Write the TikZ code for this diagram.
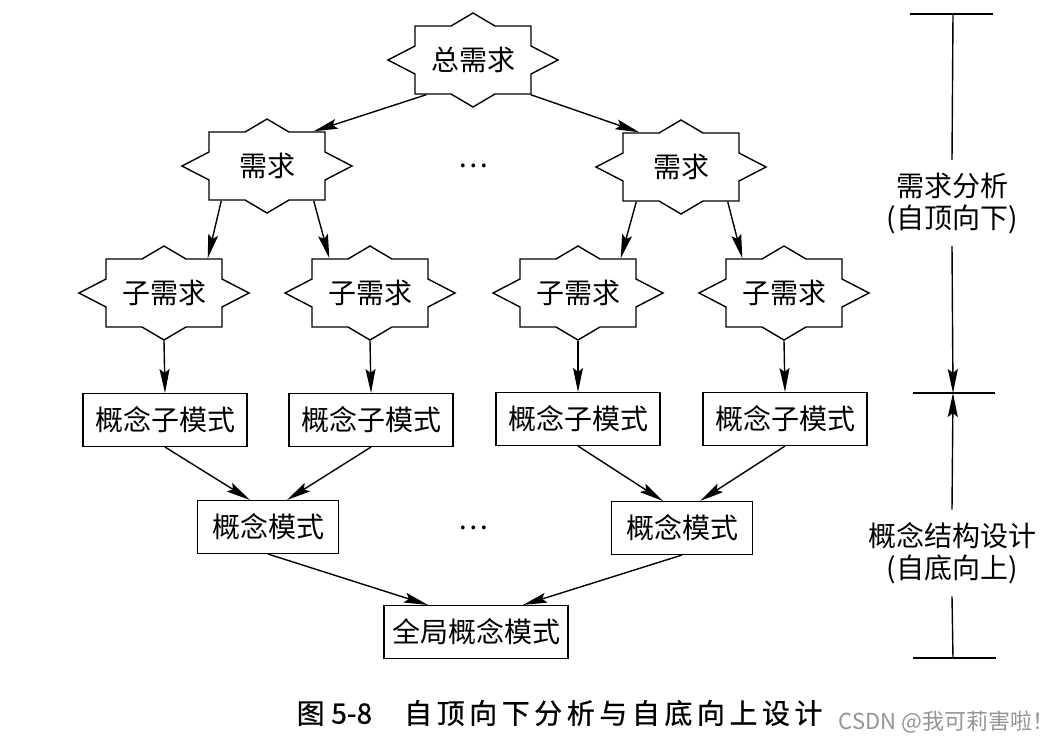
\documentclass[tikz,border=0pt]{standalone}
\usepackage{fontspec}
\setmainfont{Noto Sans CJK SC}
\newfontfamily\capfont[FakeBold=0.6]{Noto Sans CJK SC}
\usetikzlibrary{arrows.meta,calc}
\def\spaced#1{\spacedi#1\relax}
\def\spacedi#1{\ifx#1\relax\else#1\kern3.4pt\expandafter\spacedi\fi}
\begin{document}
\begin{tikzpicture}[x=0.75pt,y=-0.75pt,
  line width=1.05pt,
  txt/.style={font=\fontsize{21}{24}\selectfont, inner sep=0pt},
  starnode/.style={txt, minimum width=87pt, minimum height=51pt},
  boxnode/.style={txt, draw, minimum height=39.5pt},
  arr/.style={-{Stealth[length=18pt,width=7.5pt,inset=3pt]}},
  tick/.style={line width=1.05pt},
  side/.style={txt, align=center, inner ysep=9pt},
]
\path[use as bounding box, fill=white] (0,0) rectangle (1054,744);

% star nodes
\node[starnode] (top) at (473,60) {总需求};
\node[starnode] (r1) at (267,166) {需求};
\node[starnode] (r2) at (681,167) {需求};
\node[starnode] (s1) at (164,293) {子需求};
\node[starnode] (s2) at (370,293) {子需求};
\node[starnode] (s3) at (578,293) {子需求};
\node[starnode] (s4) at (784,293) {子需求};
\foreach \n in {top,r1,r2,s1,s2,s3,s4}
  \draw[shift={(\n.center)}] (0,-47) -- (22,-34) -- (58,-34) -- (58,-14) -- (85,0)
     -- (58,14) -- (58,34) -- (22,34) -- (0,47) -- (-22,34) -- (-58,34) -- (-58,14)
     -- (-85,0) -- (-58,-14) -- (-58,-34) -- (-22,-34) -- cycle;

% boxes
\node[boxnode, minimum width=123pt] (b1) at (165,420) {概念子模式};
\node[boxnode, minimum width=123pt] (b2) at (371,420) {概念子模式};
\node[boxnode, minimum width=123pt] (b3) at (578,419) {概念子模式};
\node[boxnode, minimum width=123pt] (b4) at (785,419) {概念子模式};
\node[boxnode, minimum width=106pt] (m1) at (268,527) {概念模式};
\node[boxnode, minimum width=106pt] (m2) at (682,528) {概念模式};
\node[boxnode, minimum width=138pt] (g) at (476,632) {全局概念模式};

% ellipses
\node[txt] (d1) at (473,166) {…};
\node[txt] (d2) at (473,528) {…};

% connectors
\draw[arr] ($(top.south west)+(12,0)$) -- ($(r1.north east)+(-12,0)$);
\draw[arr] ($(top.south east)+(-1,0)$) -- ($(r2.north west)+(17,0)$);
\draw[arr] ($(r1.south west)+(13,0)$) -- ($(s1.north east)+(-15,0)$);
\draw[arr] ($(r1.south east)+(-12,0)$) -- ($(s2.north west)+(18,0)$);
\draw[arr] ($(r2.south west)+(14,0)$) -- ($(s3.north east)+(-16,0)$);
\draw[arr] ($(r2.south east)+(-12,0)$) -- ($(s4.north west)+(17,0)$);
\foreach \i in {1,2,3,4}
  \draw[arr] ($(s\i.south)+(0,13)$) -- (b\i.north);
\draw[arr] (b1.south) -- ($(m1.north)+(-18,0)$);
\draw[arr] (b2.south) -- ($(m1.north)+(19,0)$);
\draw[arr] (b3.south) -- ($(m2.north)+(-19,0)$);
\draw[arr] (b4.south) -- ($(m2.north)+(18,0)$);
\draw[arr] (m1.south) -- ($(g.north)+(-48,0)$);
\draw[arr] (m2.south) -- ($(g.north)+(47,0)$);

% right-hand bracket
\coordinate (t0) at (953,14);
\coordinate (t1) at (953,393);
\coordinate (t2) at (953,658);
\coordinate (t0l) at (910,14);  \coordinate (t0r) at (993,14);
\coordinate (t1l) at (913,393); \coordinate (t1r) at (995,393);
\coordinate (t2l) at (913,658); \coordinate (t2r) at (996,658);
\draw[tick] (t0l) -- (t0r);
\draw[tick] (t1l) -- (t1r);
\draw[tick] (t2l) -- (t2r);
\node[side] (L1) at (952,203) {需求分析\\(自顶向下)};
\node[side] (L2) at (952,553) {概念结构设计\\(自底向上)};
\draw (t0) -- (L1.north);
\draw[arr] (L1.south) -- (t1);
\draw[arr] (L2.north) -- (t1);
\draw (L2.south) -- (t2);

% caption
\node[txt, font=\capfont\fontsize{21}{24}\selectfont, anchor=west] (cap) at (296,713)
  {图\kern5pt 5-8\kern24pt\spaced{自顶向下分析与自底向上设计}};
\node[inner sep=0pt, font=\fontsize{16.5}{18}\selectfont, text=black!42, anchor=west] (wm) at (838,722)
  {CSDN @我可莉害啦！};
\end{tikzpicture}
\end{document}
